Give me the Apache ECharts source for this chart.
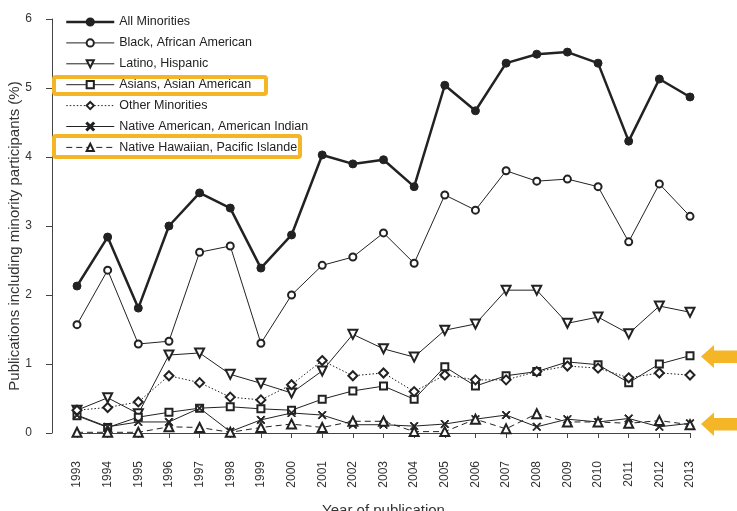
<!DOCTYPE html>
<html>
<head>
<meta charset="utf-8">
<script src="https://cdn.jsdelivr.net/npm/echarts@6/dist/echarts.min.js"></script>
<style>
html,body{margin:0;padding:0;background:#fff;}
#chart{width:737px;height:511px;}
</style>
</head>
<body>
<div id="chart"></div>
<script>
var years = ['1993','1994','1995','1996','1997','1998','1999','2000','2001','2002','2003','2004','2005','2006','2007','2008','2009','2010','2011','2012','2013'];
var yTicks = [0,1,2,3,4,5,6];
var allMinorities = [2.13,2.84,1.81,3.00,3.48,3.26,2.39,2.87,4.03,3.90,3.96,3.57,5.04,4.67,5.36,5.49,5.52,5.36,4.23,5.13,4.87];
var black = [1.57,2.36,1.29,1.33,2.62,2.71,1.30,2.00,2.43,2.55,2.90,2.46,3.45,3.23,3.80,3.65,3.68,3.57,2.77,3.61,3.14];
var latino = [0.33,0.51,0.28,1.13,1.16,0.85,0.72,0.58,0.90,1.43,1.22,1.10,1.49,1.58,2.07,2.07,1.59,1.68,1.44,1.84,1.75];
var asian = [0.25,0.08,0.23,0.30,0.36,0.38,0.35,0.33,0.49,0.61,0.68,0.49,0.96,0.68,0.83,0.89,1.03,0.99,0.73,1.00,1.12];
var otherMin = [0.33,0.37,0.45,0.83,0.73,0.52,0.48,0.70,1.05,0.83,0.87,0.60,0.84,0.77,0.77,0.89,0.97,0.94,0.80,0.87,0.84];
var nativeAm = [0.26,0.09,0.16,0.16,0.36,0.02,0.19,0.29,0.26,0.12,0.12,0.10,0.13,0.20,0.26,0.09,0.20,0.16,0.21,0.09,0.14];
var hawaiian = [0.01,0.01,0.01,0.09,0.08,0.01,0.08,0.13,0.08,0.17,0.17,0.02,0.02,0.20,0.06,0.28,0.16,0.16,0.14,0.18,0.12];

var names = ['All Minorities','Black, African American','Latino, Hispanic','Asians, Asian American','Other Minorities','Native American, American Indian','Native Hawaiian, Pacific Islande'];
var yTitle = 'Publications including minority participants (%)';
var xTitle = 'Year of publication';

var ink = '#222';
var orange = '#F4B526';
var font = 'Liberation Sans, Arial, Helvetica, sans-serif';
var xPath = 'path://M0,1L1,0L5,4L9,0L10,1L6,5L10,9L9,10L5,6L1,10L0,9L4,5Z';

function mk(name, data, symbol, size, lineType, width, rotate) {
  return {
    name: name, type: 'line', data: data, symbol: symbol, symbolSize: size,
    symbolRotate: rotate || 0, clip: false, animation: false,
    lineStyle: {color: ink, width: width, type: lineType},
    itemStyle: {color: ink, borderColor: ink, borderWidth: 1}
  };
}

var legendData = names.map(function (n, i) {
  return {name: n, lineStyle: {width: i === 0 ? 2.5 : 1}};
});

var chart = echarts.init(document.getElementById('chart'), null, {renderer: 'canvas'});
chart.setOption({
  backgroundColor: '#fff',
  animation: false,
  textStyle: {fontFamily: font},
  grid: {left: 77, right: 47, top: 19, bottom: 78, containLabel: false, outerBoundsMode: 'none'},
  legend: {
    orient: 'vertical', left: 65, top: 15.5, padding: 0, itemWidth: 48, itemHeight: 9, itemGap: 7.9,
    textStyle: {fontSize: 12.5, color: ink, fontFamily: font},
    data: legendData
  },
  xAxis: {
    type: 'category', data: years, boundaryGap: false, offset: 18,
    name: xTitle, nameLocation: 'middle', nameGap: 52,
    nameTextStyle: {fontSize: 15, color: '#333', fontFamily: font},
    axisLine: {lineStyle: {color: '#444', width: 1}},
    axisTick: {length: 5, lineStyle: {color: '#444'}},
    axisLabel: {rotate: 90, margin: 10, fontSize: 12, color: '#333', fontFamily: font, interval: 0},
    splitLine: {show: false}
  },
  yAxis: {
    type: 'value', min: yTicks[0], max: yTicks[yTicks.length - 1], interval: 1, offset: 25,
    axisLine: {show: true, lineStyle: {color: '#444', width: 1}},
    axisTick: {show: true, length: 6, lineStyle: {color: '#444'}},
    axisLabel: {margin: 20, fontSize: 12, color: '#333', fontFamily: font},
    splitLine: {show: false}
  },
  series: [
    mk(names[0], allMinorities, 'circle', 8, 'solid', 2.5),
    mk(names[1], black, 'emptyCircle', 7, 'solid', 1),
    mk(names[2], latino, 'emptyTriangle', 9, 'solid', 1, 180),
    mk(names[3], asian, 'emptyRect', 7, 'solid', 1),
    mk(names[4], otherMin, 'emptyDiamond', 9, [1.5, 2], 1),
    mk(names[5], nativeAm, xPath, 8, 'solid', 1),
    mk(names[6], hawaiian, 'emptyTriangle', 9, [6, 4], 1)
  ],
  graphic: [
    {type: 'text', x: 15, y: 236, rotation: Math.PI / 2,
      style: {text: yTitle, font: '15px ' + font, fill: '#333', textAlign: 'center', textVerticalAlign: 'middle'}},
    {type: 'rect', shape: {x: 54, y: 77, width: 212, height: 17, r: 2}, style: {fill: null, stroke: orange, lineWidth: 4}, z: 100},
    {type: 'rect', shape: {x: 54, y: 136, width: 246, height: 21, r: 2}, style: {fill: null, stroke: orange, lineWidth: 4}, z: 100},
    {type: 'polygon', shape: {points: [[701,356.5],[714,345],[714,350.5],[737,350.5],[737,363],[714,363],[714,368]]}, style: {fill: orange}, z: 100},
    {type: 'polygon', shape: {points: [[701,424],[714,412.5],[714,418],[737,418],[737,430.5],[714,430.5],[714,436]]}, style: {fill: orange}, z: 100}
  ]
});
</script>
</body>
</html>
